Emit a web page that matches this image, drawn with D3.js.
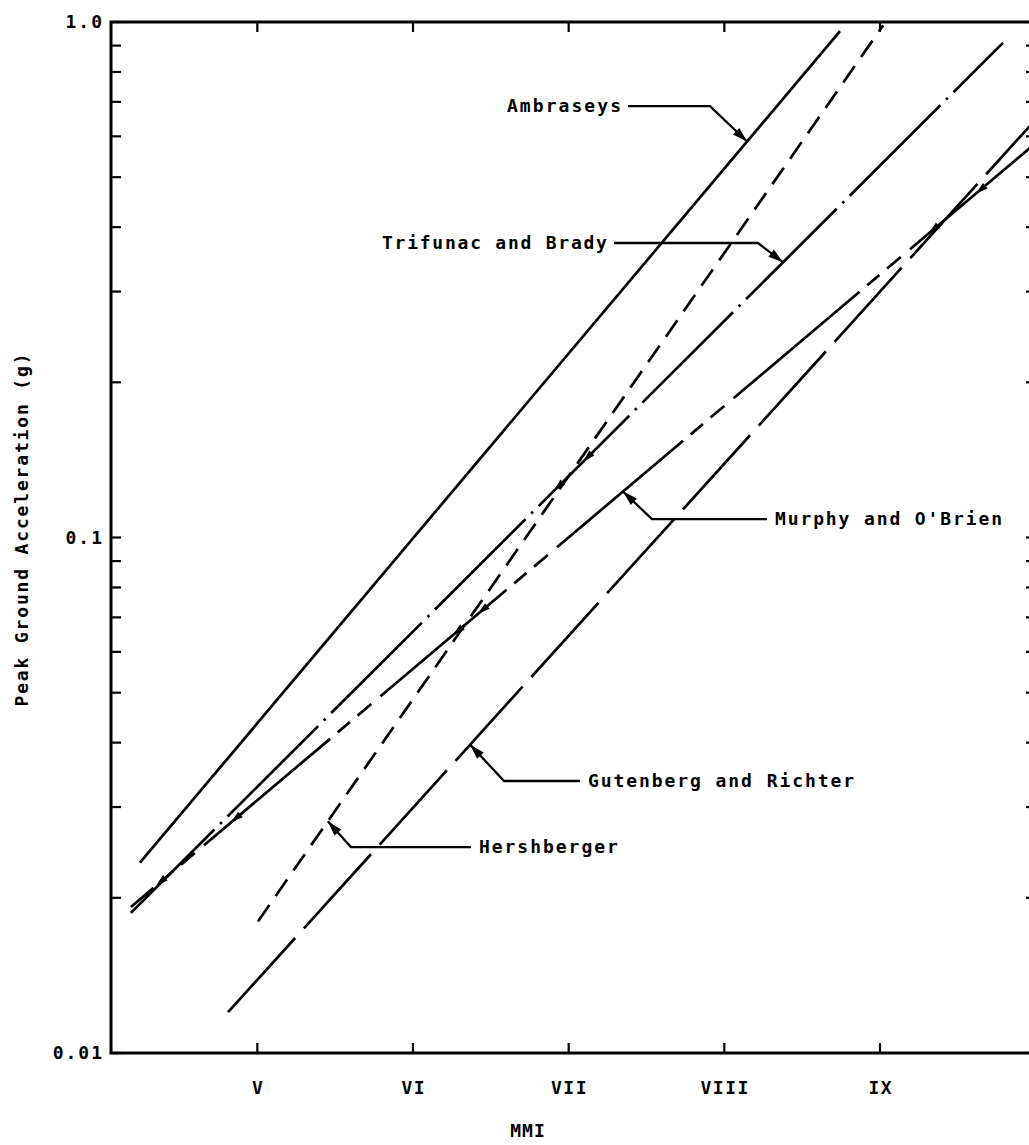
<!DOCTYPE html>
<html>
<head>
<meta charset="utf-8">
<script src="https://cdn.jsdelivr.net/npm/d3@7"></script>
<style>
  html, body { margin: 0; padding: 0; background: #fff; }
  svg { display: block; }
  text { font-family: "DejaVu Sans Mono", monospace; font-weight: bold; fill: #000; }
</style>
</head>
<body>
<svg id="chart" width="1029" height="1145"></svg>
<script>
// ---------------- data ----------------
const mmiTicks = [5, 6, 7, 8, 9];
const mmiTickLabels = ["V", "VI", "VII", "VIII", "IX"];
const gMajorTicks = [0.01, 0.1, 1.0];
const gMajorLabels = ["0.01", "0.1", "1.0"];
const gMinorTicks = [0.02, 0.03, 0.04, 0.05, 0.06, 0.07, 0.08, 0.09,
                     0.2, 0.3, 0.4, 0.5, 0.6, 0.7, 0.8, 0.9];

// each relationship: MMI values and peak ground acceleration (g)
const ambraseysMMI = [4.246, 8.743];
const ambraseysPGA = [0.0234, 0.960];
const trifunacMMI  = [4.188, 9.790];
const trifunacPGA  = [0.0187, 0.911];
const murphyMMI    = [4.188, 9.970];
const murphyPGA    = [0.0192, 0.572];
const gutenbergMMI = [4.812, 9.970];
const gutenbergPGA = [0.0120, 0.632];
const hershMMI     = [5.004, 9.02];
const hershPGA     = [0.0180, 0.985];

const seriesNames = ["Ambraseys", "Trifunac and Brady", "Murphy and O'Brien",
                     "Gutenberg and Richter", "Hershberger"];

// ---------------- scales ----------------
const svg = d3.select("#chart");
const x = d3.scaleLinear().domain([4.06, 9.97]).range([111, 1031]);
const y = d3.scaleLog().domain([0.01, 1]).range([1053, 22]);

const series = [
  { name: seriesNames[0], m: ambraseysMMI, g: ambraseysPGA, dash: null },
  { name: seriesNames[1], m: trifunacMMI,  g: trifunacPGA,  dash: [128, 8, 2.5, 8], anchorMMI: 6.764, anchorPos: 137 },
  { name: seriesNames[2], m: murphyMMI,    g: murphyPGA,    dash: [165, 10, 16, 10, 18, 12], anchorMMI: 6.925, anchorPos: 0 },
  { name: seriesNames[3], m: gutenbergMMI, g: gutenbergPGA, dash: [100, 13], anchorMMI: 4.812, anchorPos: 0 },
  { name: seriesNames[4], m: hershMMI,     g: hershPGA,     dash: [20, 11], anchorMMI: 5.004, anchorPos: 0 }
];
series.forEach(s => { s.pts = s.m.map((m, i) => ({ m: m, g: s.g[i] })); });

function gAt(s, m) {           // straight line on the semi-log plot
  const t = (m - s.m[0]) / (s.m[1] - s.m[0]);
  return Math.pow(10, Math.log10(s.g[0]) + t * (Math.log10(s.g[1]) - Math.log10(s.g[0])));
}
function px(m, g) { return [x(m), y(g)]; }

// ---------------- frame & axes ----------------
const X0 = x.range()[0], X1 = x.range()[1], Y0 = y.range()[0], Y1 = y.range()[1];
svg.append("rect").attr("x", X0).attr("y", Y1).attr("width", X1 - X0).attr("height", Y0 - Y1)
  .attr("fill", "none").attr("stroke", "#000").attr("stroke-width", 3);

const tickG = svg.append("g").attr("stroke", "#000").attr("stroke-width", 2.2);
mmiTicks.forEach(m => {
  tickG.append("line").attr("x1", x(m)).attr("x2", x(m)).attr("y1", Y0).attr("y2", Y0 - 10);
  tickG.append("line").attr("x1", x(m)).attr("x2", x(m)).attr("y1", Y1).attr("y2", Y1 + 10);
});
gMinorTicks.concat(gMajorTicks).forEach(g => {
  tickG.append("line").attr("x1", X0).attr("x2", X0 + 10).attr("y1", y(g)).attr("y2", y(g));
  tickG.append("line").attr("x1", X1 - 5).attr("x2", X1).attr("y1", y(g)).attr("y2", y(g));
});

svg.append("g").selectAll("text").data(mmiTicks).join("text")
  .attr("x", d => x(d) + 0.8).attr("y", Y0 + 41)
  .attr("text-anchor", "middle").attr("font-size", 18).attr("letter-spacing", 1.5)
  .text((d, i) => mmiTickLabels[i]);

svg.append("g").selectAll("text").data(gMajorTicks).join("text")
  .attr("x", X0 - 7).attr("y", d => y(d)).attr("dy", "0.36em")
  .attr("text-anchor", "end").attr("font-size", 18).attr("letter-spacing", 2)
  .text((d, i) => gMajorLabels[i]);

svg.append("text").attr("x", 528).attr("y", Y0 + 84).attr("text-anchor", "middle")
  .attr("font-size", 18).attr("letter-spacing", 1).text("MMI");

svg.append("text").attr("transform", "translate(28,530) rotate(-90)")
  .attr("text-anchor", "middle").attr("font-size", 18)
  .attr("textLength", 353).attr("lengthAdjust", "spacing")
  .text("Peak Ground Acceleration (g)");

// ---------------- series lines ----------------
const line = d3.line().x(d => x(d.m)).y(d => y(d.g));
series.forEach(s => {
  const p = svg.append("path").datum(s.pts).attr("d", line)
    .attr("fill", "none").attr("stroke", "#000").attr("stroke-width", 2.7)
    .attr("stroke-linecap", "butt");
  if (s.dash) {
    const period = d3.sum(s.dash);
    const a = px(s.m[0], s.g[0]), b = px(s.anchorMMI, gAt(s, s.anchorMMI));
    const dist = Math.hypot(b[0] - a[0], b[1] - a[1]);
    const off = ((s.anchorPos - dist) % period + period) % period;
    p.attr("stroke-dasharray", s.dash.join(",")).attr("stroke-dashoffset", off);
  }
});

// ---------------- small arrowheads drawn on the curves ----------------
const curveMarks = [
  { s: 2, m: 4.375 }, { s: 2, m: 4.857 }, { s: 2, m: 6.283 }, { s: 2, m: 6.443 },
  { s: 1, m: 6.931 }, { s: 1, m: 7.117 }, { s: 2, m: 9.642 }, { s: 2, m: 9.340 }
];
function tri(tip, ux, uy, len, hw) {
  const bx = tip[0] - ux * len, by = tip[1] - uy * len;
  return `M${tip[0]},${tip[1]}L${bx - uy * hw},${by + ux * hw}L${bx + uy * hw},${by - ux * hw}Z`;
}
curveMarks.forEach(c => {
  const s = series[c.s];
  const p = px(c.m, gAt(s, c.m));
  const a = px(s.m[0], s.g[0]), b = px(s.m[1], s.g[1]);
  const L = Math.hypot(a[0] - b[0], a[1] - b[1]);
  const ux = (a[0] - b[0]) / L, uy = (a[1] - b[1]) / L;     // pointing down-left
  svg.append("path").attr("d", tri([p[0] + ux * 5, p[1] + uy * 5], ux, uy, 12, 3.6)).attr("fill", "#000");
});

// ---------------- labels with leader arrows ----------------
const labels = [
  { s: 0, g: 0.687,  start: 7.381, elbow: 7.908, target: 8.146, side: "left",  w: 114 },
  { s: 1, g: 0.3726, start: 7.291, elbow: 8.216, target: 8.377, side: "left",  w: 225 },
  { s: 2, g: 0.1086, start: 8.274, elbow: 7.535, target: 7.349, side: "right", w: 227 },
  { s: 3, g: 0.0337, start: 7.073, elbow: 6.585, target: 6.367, side: "right", w: 266 },
  { s: 4, g: 0.02509, start: 6.372, elbow: 5.601, target: 5.453, side: "right", w: 139 }
];
labels.forEach(l => {
  const s = series[l.s];
  const p0 = px(l.start, l.g), p1 = px(l.elbow, l.g), p2 = px(l.target, gAt(s, l.target));
  svg.append("path").attr("d", `M${p0[0]},${p0[1]}L${p1[0]},${p1[1]}L${p2[0]},${p2[1]}`)
    .attr("fill", "none").attr("stroke", "#000").attr("stroke-width", 2.3);
  const L = Math.hypot(p2[0] - p1[0], p2[1] - p1[1]);
  const ux = (p2[0] - p1[0]) / L, uy = (p2[1] - p1[1]) / L;
  svg.append("path").attr("d", tri(p2, ux, uy, 15, 4.5)).attr("fill", "#000");
  const tx = l.side === "left" ? p0[0] - 7 - l.w : p0[0] + 8;
  svg.append("text").attr("x", tx).attr("y", p0[1] + 6)
    .attr("font-size", 18).attr("textLength", l.w).attr("lengthAdjust", "spacing")
    .text(s.name);
});
</script>
</body>
</html>
